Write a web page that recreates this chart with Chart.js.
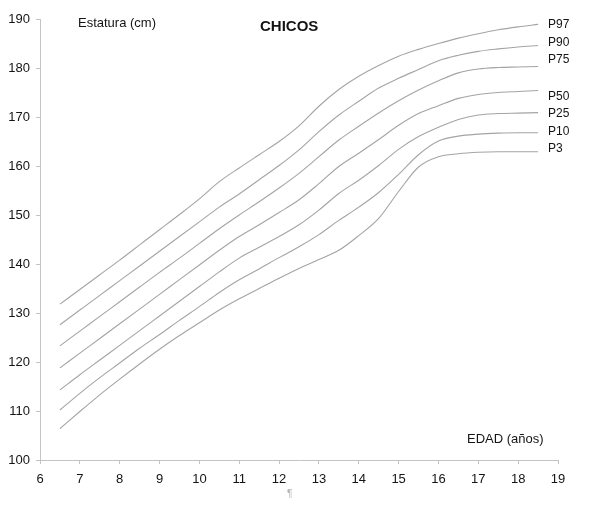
<!DOCTYPE html>
<html>
<head>
<meta charset="utf-8">
<script src="https://cdn.jsdelivr.net/npm/chart.js@4.4.0/dist/chart.umd.min.js"></script>
<style>
  html, body { margin: 0; padding: 0; background: #fff; }
  #wrap { width: 592px; height: 511px; }
</style>
</head>
<body>
<div id="wrap"><canvas id="chart" width="592" height="511"></canvas></div>
<script>
// Data
const ages = [6.5, 7, 7.5, 8, 8.5, 9, 9.5, 10, 10.5, 11, 11.5, 12, 12.5, 13, 13.5, 14, 14.5, 15, 15.5, 16, 16.5, 17, 17.5, 18, 18.5];

const p97 = [131.8, 134.8, 137.8, 140.8, 143.9, 147.0, 150.1, 153.3, 156.8, 159.6, 162.3, 165.0, 168.2, 172.2, 175.6, 178.3, 180.5, 182.4, 183.8, 185.0, 186.1, 187.0, 187.8, 188.4, 188.9];
const p90 = [127.6, 130.6, 133.6, 136.6, 139.6, 142.6, 145.6, 148.6, 151.6, 154.3, 157.2, 160.1, 163.3, 167.0, 170.4, 173.2, 175.9, 177.9, 179.7, 181.5, 182.6, 183.4, 183.9, 184.3, 184.6];
const p75 = [123.3, 126.3, 129.3, 132.3, 135.3, 138.3, 141.2, 144.2, 147.2, 150.0, 152.7, 155.5, 158.5, 161.9, 165.3, 168.1, 170.8, 173.3, 175.5, 177.4, 179.0, 179.8, 180.1, 180.2, 180.3];
const p50 = [118.8, 121.8, 124.8, 127.8, 130.8, 133.8, 136.8, 139.8, 142.8, 145.6, 148.0, 150.5, 153.1, 156.4, 159.9, 162.6, 165.4, 168.3, 170.7, 172.3, 173.8, 174.6, 175.0, 175.2, 175.4];
const p25 = [114.3, 117.4, 120.4, 123.4, 126.4, 129.4, 132.4, 135.4, 138.4, 141.2, 143.4, 145.6, 148.0, 151.0, 154.4, 157.1, 160.1, 163.4, 166.0, 167.9, 169.5, 170.4, 170.7, 170.8, 170.9];
const p10 = [110.2, 113.6, 116.8, 119.8, 122.8, 125.6, 128.5, 131.3, 134.2, 136.8, 139.0, 141.3, 143.5, 146.0, 148.9, 151.6, 154.6, 158.3, 162.3, 165.1, 166.1, 166.5, 166.7, 166.8, 166.8];
const p3  = [106.4, 109.9, 113.3, 116.5, 119.6, 122.6, 125.4, 128.0, 130.6, 132.9, 135.0, 137.1, 139.1, 140.9, 142.8, 145.8, 149.3, 154.8, 159.8, 161.9, 162.5, 162.8, 162.9, 162.9, 162.9];

const seriesNames = ['P97', 'P90', 'P75', 'P50', 'P25', 'P10', 'P3'];
const seriesValues = [p97, p90, p75, p50, p25, p10, p3];

const xTicks = [6, 7, 8, 9, 10, 11, 12, 13, 14, 15, 16, 17, 18, 19];
const yTicks = [100, 110, 120, 130, 140, 150, 160, 170, 180, 190];

const FONT = '"Liberation Sans", Arial, sans-serif';
const LINE = '#a4a4a4';
const AXIS = '#c4c4c4';

// small vertical nudges for the end labels, as in the original
const labelNudge = [0, -3, -7, 6, 1, -1, -3];

const textPlugin = {
  id: 'texts',
  afterDraw(chart) {
    const ctx = chart.ctx;
    ctx.save();
    ctx.fillStyle = '#141414';
    ctx.textBaseline = 'middle';
    ctx.textAlign = 'left';

    ctx.font = '13px ' + FONT;
    ctx.fillText('Estatura (cm)', 78, 23);
    ctx.fillText('EDAD (años)', 467, 439);

    ctx.font = 'bold 15px ' + FONT;
    ctx.fillText('CHICOS', 260, 27);

    // percentile labels at the end of each curve
    ctx.font = '12px ' + FONT;
    chart.data.datasets.forEach((ds, i) => {
      const meta = chart.getDatasetMeta(i);
      const last = meta.data[meta.data.length - 1];
      ctx.fillText(ds.label, last.x + 10, last.y + labelNudge[i]);
    });

    ctx.fillStyle = '#b0b0b0';
    ctx.font = '10px ' + FONT;
    ctx.fillText('¶', 287, 494);
    ctx.restore();
  }
};

const datasets = seriesNames.map((name, i) => ({
  label: name,
  data: ages.map((a, j) => ({ x: a, y: seriesValues[i][j] })),
  borderColor: LINE,
  backgroundColor: 'transparent',
  borderWidth: 1.1,
  pointRadius: 0,
  cubicInterpolationMode: 'monotone',
  fill: false
}));

new Chart(document.getElementById('chart'), {
  type: 'line',
  data: { datasets: datasets },
  options: {
    responsive: false,
    animation: false,
    layout: { padding: { top: 19, right: 34, bottom: 0, left: 0 } },
    plugins: {
      legend: { display: false },
      tooltip: { enabled: false },
      title: { display: false }
    },
    scales: {
      x: {
        type: 'linear',
        min: 6,
        max: 19,
        afterBuildTicks: s => { s.ticks = xTicks.map(v => ({ value: v })); },
        afterFit: s => { s.height = 51; },
        grid: { display: true, drawOnChartArea: false, drawTicks: true, tickLength: 4, color: AXIS },
        border: { display: true, color: AXIS },
        ticks: { color: '#141414', font: { family: FONT, size: 13 }, padding: 8, maxRotation: 0 }
      },
      y: {
        type: 'linear',
        min: 100,
        max: 190,
        afterBuildTicks: s => { s.ticks = yTicks.map(v => ({ value: v })); },
        afterFit: s => { s.width = 40; },
        grid: { display: true, drawOnChartArea: false, drawTicks: true, tickLength: 4, color: AXIS },
        border: { display: true, color: AXIS },
        ticks: { color: '#141414', font: { family: FONT, size: 13 }, padding: 6 }
      }
    }
  },
  plugins: [textPlugin]
});
</script>
</body>
</html>
